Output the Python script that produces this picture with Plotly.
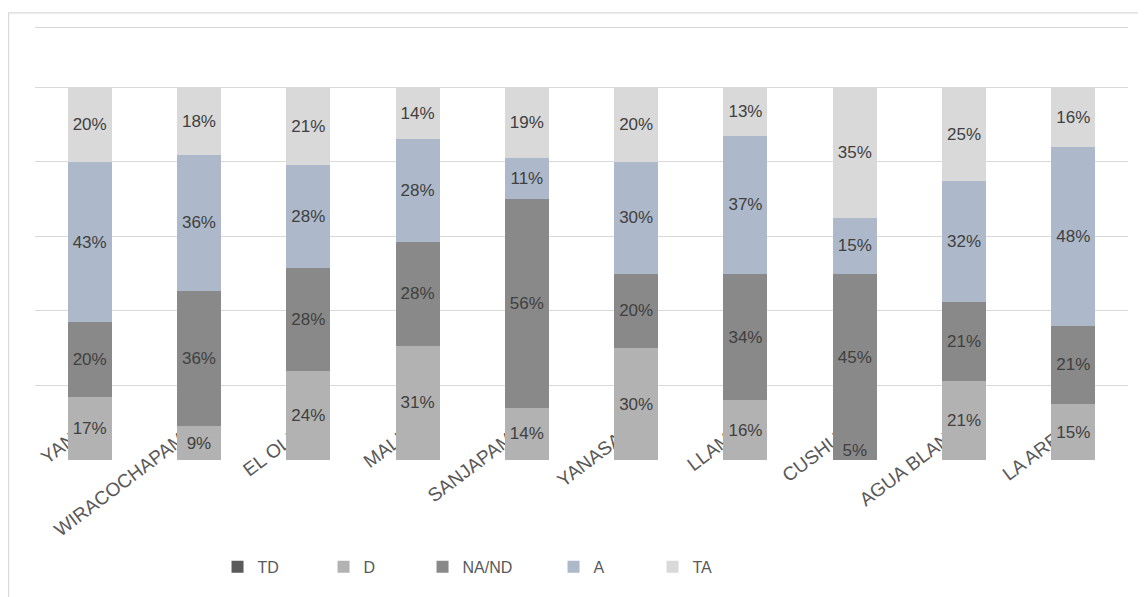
import plotly.graph_objects as go

# ---- data (percent) ----
categories = ["YAN", "WIRACOCHAPAM", "EL OLI", "MALI", "SANJAPAM",
              "YANASA", "LLAM", "CUSHU", "AGUA BLAN", "LA ARE"]
series_names = ["TD", "D", "NA/ND", "A", "TA"]
td_vals = [0, 0, 0, 0, 0, 0, 0, 5, 0, 0]
d_vals = [17, 9, 24, 31, 14, 30, 16, 0, 21, 15]
nand_vals = [20, 36, 28, 28, 56, 20, 34, 45, 21, 21]
a_vals = [43, 36, 28, 28, 11, 30, 37, 15, 32, 48]
ta_vals = [20, 18, 21, 14, 19, 20, 13, 35, 25, 16]

series_values = [td_vals, d_vals, nand_vals, a_vals, ta_vals]
series_colors = ["#5a5a5a", "#b2b2b2", "#898989", "#adb9ca", "#d9d9d9"]
legend_widths = [61, 54, 86, 54, 40]

FONT = "Liberation Sans, Arial, sans-serif"

fig = go.Figure()
for name, vals, col, lw in zip(series_names, series_values, series_colors, legend_widths):
    # segment colour per category (TD segment of CUSHU appears in the NA/ND grey)
    cols = [col] * len(vals)
    if name == "TD":
        cols = [col if i != categories.index("CUSHU") else "#898989" for i in range(len(vals))]
    fig.add_trace(go.Bar(
        name=name,
        x=categories,
        y=vals,
        text=[f"{v}%" if v else "" for v in vals],
        textposition="inside",
        insidetextanchor="middle",
        textangle=0,
        constraintext="none",
        textfont=dict(family=FONT, size=17, color="#404040"),
        marker=dict(color=cols, line=dict(width=0)),
        legendwidth=lw,
        hoverinfo="skip",
    ))

fig.update_layout(
    template="none",
    barmode="stack",
    barnorm="fraction",
    bargap=0.597,
    width=1138,
    height=589,
    margin=dict(l=27, r=18, t=16, b=137, autoexpand=False),
    paper_bgcolor="white",
    plot_bgcolor="white",
    font=dict(family=FONT, color="#595959"),
    showlegend=True,
    legend=dict(
        orientation="h",
        x=0.167, xanchor="left",
        y=-0.245, yanchor="middle",
        font=dict(family=FONT, size=16, color="#595959"),
        traceorder="normal",
        itemclick=False,
        bgcolor="rgba(0,0,0,0)",
    ),
    xaxis=dict(
        type="category",
        showgrid=False,
        showline=False,
        zeroline=False,
        ticks="",
        tickangle=-37,
        tickfont=dict(family=FONT, size=19, color="#595959"),
        layer="below traces",
        ticklabelstandoff=-36,
        ticklabelshift=-18,
        automargin=False,
    ),
    yaxis=dict(
        range=[0, 1.17],
        tickvals=[0, 0.2, 0.4, 0.6, 0.8, 1.0, 1.16],
        showticklabels=False,
        showgrid=True,
        gridcolor="#d9d9d9",
        gridwidth=1.3,
        zeroline=False,
        showline=False,
        ticks="",
        automargin=False,
    ),
    shapes=[dict(
        type="rect", xref="paper", yref="paper",
        x0=-0.0242, x1=1.2, y0=-0.4, y1=1.0257,
        line=dict(color="#d9d9d9", width=1.3),
        fillcolor="rgba(0,0,0,0)",
        layer="below",
    )],
)

fig.write_html("out.html")
